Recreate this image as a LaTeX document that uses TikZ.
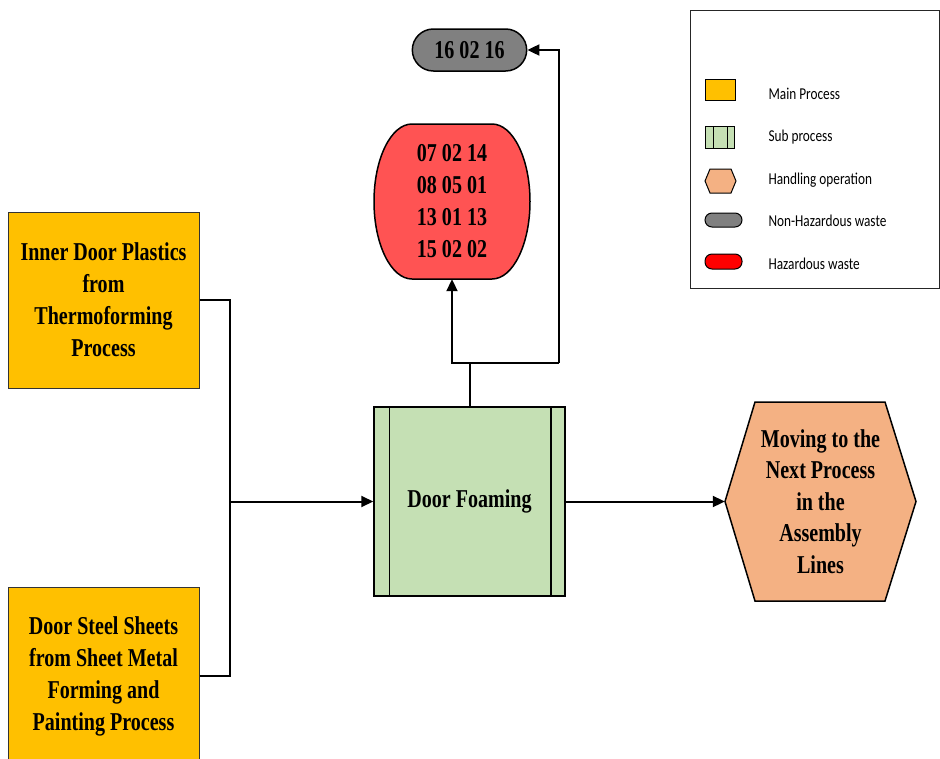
\documentclass[tikz,border=0pt]{standalone}
\usepackage{fontspec}
\usetikzlibrary{arrows.meta,shapes.misc}
\newfontfamily\tnr[FakeStretch=0.78]{Liberation Serif}
\newfontfamily\calfont[FakeStretch=0.8]{Carlito}
\definecolor{mainY}{HTML}{FFC000}
\definecolor{subG}{HTML}{C5E0B4}
\definecolor{hexO}{HTML}{F4B183}
\definecolor{nonG}{HTML}{808080}
\definecolor{hazR}{HTML}{FF5353}
\definecolor{legR}{HTML}{FF0000}
\begin{document}
\begin{tikzpicture}[x=1pt,y=-1pt,
  lbl/.style={font=\tnr\bfseries\fontsize{25.7}{32}\selectfont, align=center, text=black},
  leg/.style={font=\calfont\fontsize{16.6}{20}\selectfont, anchor=west, text=black},
  mainbox/.style={draw=black!80, line width=1pt, fill=mainY, lbl},
  shp/.style={draw=black, line width=1.5pt},
  conn/.style={line width=2pt, draw=black},
  arr/.style={conn, -{Triangle[length=12pt,width=11pt]}}
]
\useasboundingbox (0,0) rectangle (940,758);

% main process boxes
\node[mainbox, minimum width=191pt, minimum height=176pt] (inner) at (103.5,300)
  {Inner Door Plastics\\from\\Thermoforming\\Process};
\node[mainbox, minimum width=191pt, minimum height=178pt] (steel) at (103.5,676)
  {Door Steel Sheets\\from Sheet Metal\\Forming and\\Painting Process};

% sub process
\node[shp, fill=subG, minimum width=191pt, minimum height=189pt, lbl] (foam) at (469.5,501.5) {\raisebox{-2pt}{Door Foaming}};
\draw[shp] ([xshift=16pt]foam.north west) -- ([xshift=16pt]foam.south west);
\draw[shp] ([xshift=-15pt]foam.north east) -- ([xshift=-15pt]foam.south east);

% handling operation
\draw[shp, fill=hexO] (725,501.5) -- (755,402) -- (885,402) -- (916,501.5) -- (885,601) -- (755,601) -- cycle;
\node[lbl, minimum width=191pt, minimum height=199pt, font=\tnr\bfseries\fontsize{25.7}{31.5}\selectfont] (hex) at (820.5,501.5)
  {Moving to the\\Next Process\\in the\\Assembly\\Lines};

% hazardous waste
\draw[shp, fill=hazR] (412,124) -- (492,124)
  arc[start angle=-90, end angle=90, x radius=38, y radius=77.5] -- (412,279)
  arc[start angle=90, end angle=270, x radius=38, y radius=77.5] -- cycle;
\node[lbl, minimum width=156pt, minimum height=155pt] (red) at (452,201.5)
  {07 02 14\\08 05 01\\13 01 13\\15 02 02};

% non-hazardous waste
\node[shp, rounded rectangle, fill=nonG, minimum width=121pt, minimum height=42pt, lbl] (gray) at (469.5,50) {16 02 16};

% connectors
\coordinate (j) at (230,501.5);
\coordinate (t) at (469.5,363);
\coordinate (r) at (559,363);
\draw[conn] (inner.east) -| (j);
\draw[conn] (steel.east) -| (j);
\draw[arr] (j) -- (foam.west);
\draw[conn] (foam.north) -- (t);
\draw[arr] (t) -| (red.south);
\draw[conn] (t) -- (r);
\draw[arr] (r) |- (gray.east);
\draw[arr] (foam.east) -- (hex.west);

% legend
\draw[line width=1.5pt, draw=black!85] (690.5,10.5) rectangle (939.5,288.5);
\draw[line width=1pt, fill=mainY] (705,79) rectangle (735,100);
\draw[line width=1pt, fill=subG] (705,126) rectangle (734,148);
\draw[line width=1pt] (713,126) -- (713,148) (727,126) -- (727,148);
\draw[line width=1pt, fill=hexO] (705,181) -- (710,169) -- (731,169) -- (736,181) -- (731,193) -- (710,193) -- cycle;
\draw[line width=1pt, fill=nonG, rounded corners=7pt] (705,213) rectangle (742,227);
\draw[line width=1pt, fill=legR, rounded corners=7pt] (705,254) rectangle (742,269);
\node[leg] (l1) at (765,94) {Main Process};
\node[leg] (l2) at (765,137) {Sub process};
\node[leg] (l3) at (765,180) {Handling operation};
\node[leg] (l4) at (765,221) {Non-Hazardous waste};
\node[leg] (l5) at (765,264) {Hazardous waste};
\end{tikzpicture}
\end{document}
